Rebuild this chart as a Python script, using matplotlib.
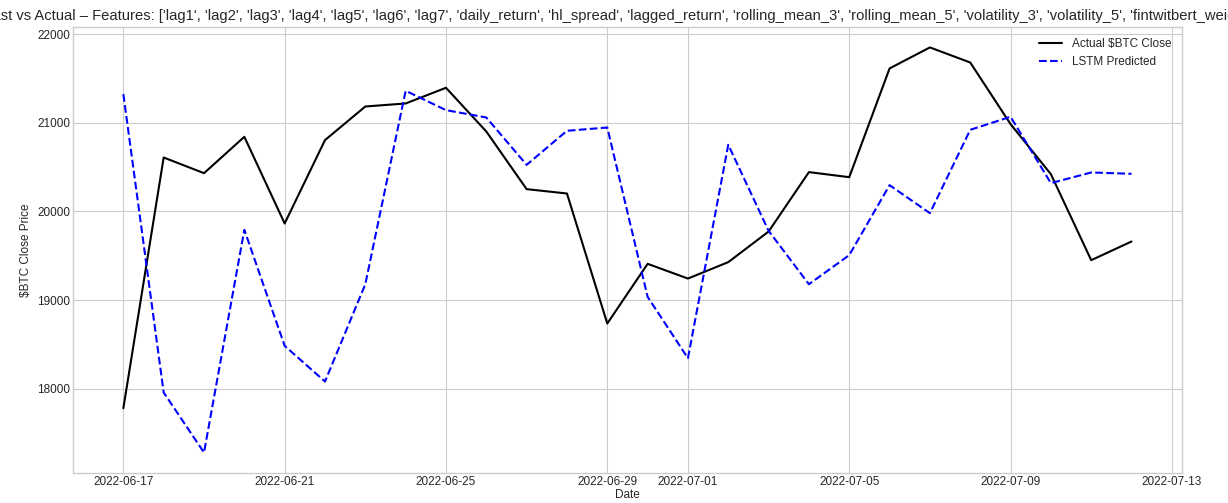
import matplotlib.pyplot as plt
import pandas as pd

dates = pd.date_range("2022-06-17", "2022-07-12", freq="D")

actual = [17782, 20609, 20432, 20842, 19865, 20805, 21184, 21218,
          21395, 20902, 20252, 20203, 18737, 19410, 19244, 19429,
          19774, 20444, 20387, 21613, 21850, 21680, 20985, 20421,
          19451, 19662]
predicted = [21323, 17959, 17282, 19793, 18485, 18083, 19180, 21361,
             21143, 21060, 20526, 20910, 20947, 19038, 18346, 20752,
             19782, 19180, 19508, 20297, 19981, 20921, 21068, 20320,
             20440, 20425]

features = ['lag1', 'lag2', 'lag3', 'lag4', 'lag5', 'lag6', 'lag7',
            'daily_return', 'hl_spread', 'lagged_return', 'rolling_mean_3',
            'rolling_mean_5', 'volatility_3', 'volatility_5',
            'fintwitbert_weighted_sentiment']

plt.style.use("seaborn-v0_8-whitegrid")
plt.rcParams['font.family'] = ['Liberation Sans', 'DejaVu Sans']

fig = plt.figure(figsize=(12.28, 5.03), dpi=100)
ax = fig.add_axes([0.0594, 0.060, 0.9031, 0.886])

ax.plot(dates, actual, color="black", linewidth=1.5, label="Actual $BTC Close")
ax.plot(dates, predicted, color="blue", linestyle="--", linewidth=1.5,
        label="LSTM Predicted")

ax.set_title(f"LSTM Forecast vs Actual – Features: {features}", fontsize=10.6, pad=5)
ax.set_xlabel("Date", fontsize=8.5, labelpad=1)
ax.set_ylabel("$BTC Close Price", fontsize=8.5)
ax.tick_params(labelsize=8.5, pad=2)
ax.legend(loc="upper right", fontsize=8.5)

plt.savefig("out.png", dpi=100)
